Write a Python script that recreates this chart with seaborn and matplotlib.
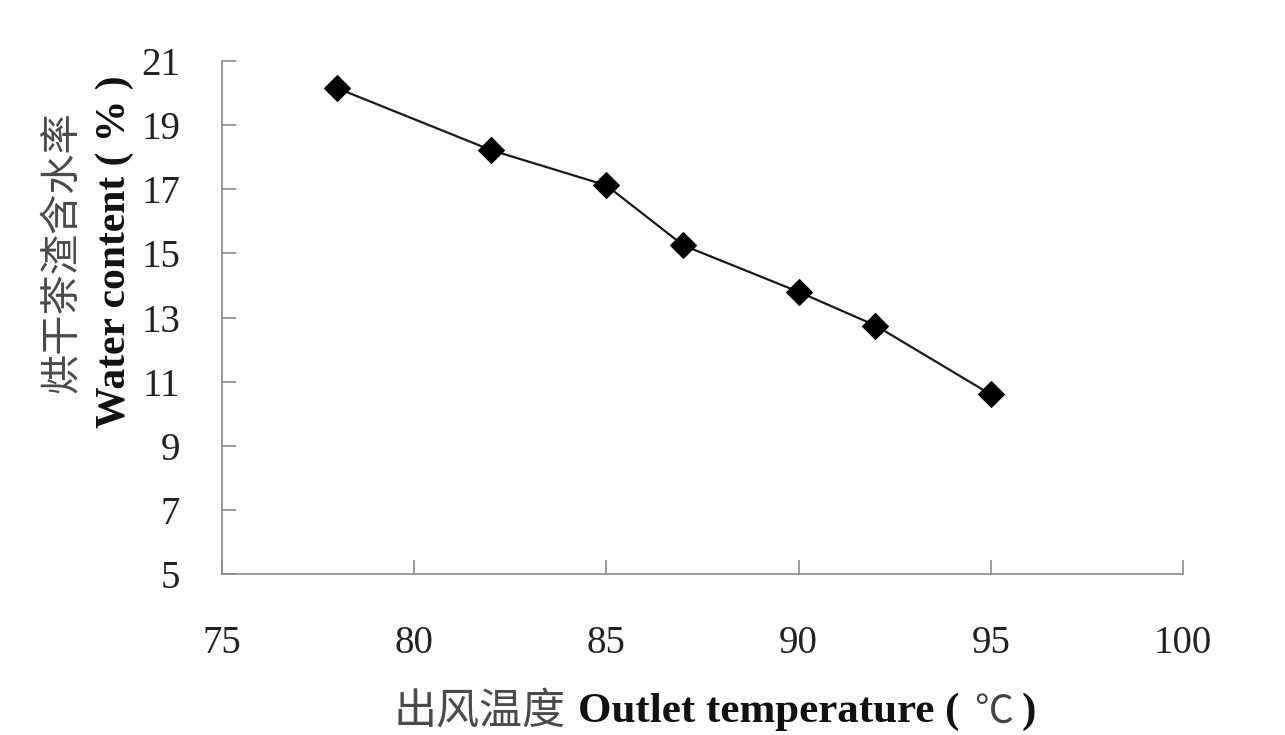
import matplotlib
matplotlib.use("Agg")
import matplotlib.pyplot as plt
import seaborn as sns
import pandas as pd

temperature = [78, 82, 85, 87, 90, 92, 95]
water_content = [20.15, 18.22, 17.12, 15.25, 13.8, 12.75, 10.6]
x_ticks = [75, 80, 85, 90, 95, 100]
y_ticks = [5, 7, 9, 11, 13, 15, 17, 19, 21]

sns.set_theme(style="white")
fam = ["Liberation Serif", "Noto Sans CJK SC", "DejaVu Sans"]
plt.rcParams["font.family"] = fam

df = pd.DataFrame({"t": temperature, "w": water_content})

fig = plt.figure(figsize=(12.85, 7.35), dpi=100, facecolor="#fdfdfd")
ax = fig.add_axes([222/1285, 1-574/735, (1183-222)/1285, (574-61)/735])
ax.set_facecolor("#fdfdfd")

sns.lineplot(data=df, x="t", y="w", ax=ax, color="#1a1a1a", linewidth=1.6,
             marker="D", markersize=13, markerfacecolor="black",
             markeredgecolor="black")

ax.set_xlim(75, 100)
ax.set_ylim(5, 21)
ax.set_xticks(x_ticks)
ax.set_yticks(y_ticks)
ax.set_xticklabels([str(v) for v in x_ticks])
ax.set_yticklabels([str(v) for v in y_ticks])
ax.set_xlabel("")
ax.set_ylabel("")

for s in ["top", "right"]:
    ax.spines[s].set_visible(False)
for s in ["left", "bottom"]:
    ax.spines[s].set_color("#8a8a8a")
    ax.spines[s].set_linewidth(1.2)

ax.tick_params(axis="both", which="major", direction="in", length=10,
               width=1.2, color="#8a8a8a", labelsize=28, labelcolor="#222222",
               left=True, bottom=True)
ax.tick_params(axis="y", pad=30)
ax.tick_params(axis="x", pad=37)

# y label: Chinese line and bold English line
fig.text(62/1285, 1-252/735, "烘干茶渣含水率", rotation=90, ha="center", va="center",
         fontsize=29, color="#4a4a4a", family=["Noto Sans CJK SC", "Liberation Serif"])
fig.text(115/1285, 1-252/735, "Water content ( % )", rotation=90, ha="center", va="center",
         fontsize=30, fontweight="bold", color="#111111", family=fam)

# x label: Chinese part, bold English part, light degree sign, bold bracket
ylab = 1 - 712/735
fig.text(566/1285, ylab, "出风温度", ha="right", va="center",
         fontsize=31, color="#4a4a4a", family=["Noto Sans CJK SC", "Liberation Serif"])
t1 = fig.text(578/1285, ylab, "Outlet temperature ( ", ha="left", va="center",
              fontsize=31, fontweight="bold", color="#111111", family=fam)
renderer = fig.canvas.get_renderer()
bb1 = t1.get_window_extent(renderer)
t2 = fig.text((bb1.x1 + 4) / 1285, ylab, "℃", ha="left", va="center",
              fontsize=28, color="#444444", family=["Noto Sans CJK SC", "Liberation Serif"])
bb2 = t2.get_window_extent(renderer)
fig.text((bb2.x1 + 8) / 1285, ylab, ")", ha="left", va="center",
         fontsize=31, fontweight="bold", color="#111111", family=fam)

fig.savefig("out.png", dpi=100, facecolor=fig.get_facecolor())
